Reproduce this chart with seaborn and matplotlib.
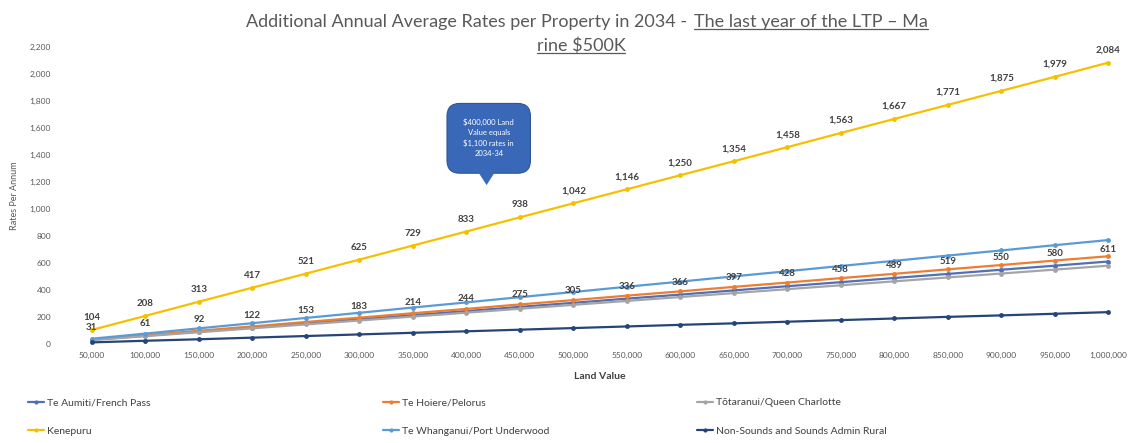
import matplotlib
matplotlib.use("Agg")
import matplotlib.pyplot as plt
import seaborn as sns
import pandas as pd
from matplotlib.patches import FancyBboxPatch, Polygon
from matplotlib.lines import Line2D

# ---------------- data ----------------
land_values = [50000, 100000, 150000, 200000, 250000, 300000, 350000, 400000, 450000, 500000,
               550000, 600000, 650000, 700000, 750000, 800000, 850000, 900000, 950000, 1000000]
x_labels = ["50,000", "100,000", "150,000", "200,000", "250,000", "300,000", "350,000", "400,000",
            "450,000", "500,000", "550,000", "600,000", "650,000", "700,000", "750,000", "800,000",
            "850,000", "900,000", "950,000", "1,000,000"]
te_aumiti = [31, 61, 92, 122, 153, 183, 214, 244, 275, 305, 336, 366, 397, 428, 458, 489, 519, 550, 580, 611]
te_hoiere = [33, 65, 98, 130, 163, 195, 228, 260, 293, 325, 358, 390, 423, 455, 488, 520, 553, 585, 618, 650]
totaranui = [29, 58, 87, 116, 145, 174, 203, 232, 261, 290, 319, 348, 377, 406, 435, 464, 493, 522, 551, 580]
kenepuru = [104, 208, 313, 417, 521, 625, 729, 833, 938, 1042, 1146, 1250, 1354, 1458, 1563, 1667, 1771, 1875, 1979, 2084]
te_whanganui = [39, 77, 116, 154, 193, 231, 270, 308, 347, 385, 424, 462, 501, 539, 578, 616, 655, 693, 732, 770]
non_sounds = [12, 24, 35, 47, 59, 71, 83, 94, 106, 118, 130, 142, 153, 165, 177, 189, 201, 212, 224, 236]

series_names = ["Te Aumiti/French Pass", "Te Hoiere/Pelorus", "Tōtaranui/Queen Charlotte",
                "Kenepuru", "Te Whanganui/Port Underwood", "Non-Sounds and Sounds Admin Rural"]
series_values = [te_aumiti, te_hoiere, totaranui, kenepuru, te_whanganui, non_sounds]
series_colors = ["#4F6FB8", "#ED7D31", "#A5A5A5", "#F5C000", "#5B9BD5", "#264478"]
y_ticks = [0, 200, 400, 600, 800, 1000, 1200, 1400, 1600, 1800, 2000, 2200]

rows = []
for name, vals in zip(series_names, series_values):
    for lv, v in zip(land_values, vals):
        rows.append({"Land Value": lv, "Rates": v, "Series": name})
df = pd.DataFrame(rows)

# ---------------- style ----------------
sns.set_theme(style="white")
plt.rcParams["font.family"] = ["Lato", "DejaVu Sans"]

W, H = 1141, 443
fig = plt.figure(figsize=(W / 100, H / 100), dpi=100)
ax = fig.add_axes([65 / W, 1 - 344 / H, (1135 - 65) / W, (344 - 47) / H])

palette = dict(zip(series_names, series_colors))
sns.lineplot(data=df, x="Land Value", y="Rates", hue="Series", hue_order=series_names,
             palette=palette, ax=ax, linewidth=1.6, marker="o", markersize=3.5,
             markeredgewidth=0, legend=False)

ax.set_xlim(land_values[0] - 25000, land_values[-1] + 25000)
ax.set_ylim(0, 2200)
ax.set_xticks(land_values)
ax.set_xticklabels(x_labels)
ax.set_yticks(y_ticks)
ax.set_yticklabels([f"{t:,}" for t in y_ticks])
ax.tick_params(axis="x", labelsize=6, colors="#595959", length=0, pad=6)
ax.tick_params(axis="y", labelsize=6, colors="#595959", length=0, pad=10)
for s in ax.spines.values():
    s.set_visible(False)
ax.set_xlabel("Land Value", fontsize=7.5, color="#404040", fontweight="bold", labelpad=9)
ax.set_ylabel("Rates Per Annum", fontsize=6.5, color="#595959", labelpad=8)

# data labels
for lv, v in zip(land_values, kenepuru):
    ax.annotate(f"{v:,}", (lv, v), xytext=(0, 9), textcoords="offset points",
                ha="center", va="center", fontsize=7, fontweight="bold", color="#404040")
for lv, v in zip(land_values, te_aumiti):
    ax.annotate(f"{v:,}", (lv, v), xytext=(0, 9), textcoords="offset points",
                ha="center", va="center", fontsize=7, fontweight="bold", color="#404040")

# callout
box = FancyBboxPatch((0.357, 0.575), 0.078, 0.235, boxstyle="round,pad=0,rounding_size=0.012",
                     transform=ax.transAxes, facecolor="#3A68B8", edgecolor="#2F5597",
                     linewidth=0.8, zorder=5, mutation_aspect=3.6)
ax.add_patch(box)
ax.add_patch(Polygon([(0.386, 0.58), (0.402, 0.58), (0.394, 0.535)], closed=True,
                     transform=ax.transAxes, facecolor="#3A68B8", edgecolor="none", zorder=5))
ax.text(0.396, 0.695, "$400,000 Land\nValue equals\n$1,100 rates in\n2034-34", transform=ax.transAxes,
        ha="center", va="center", fontsize=5.5, color="white", zorder=6, linespacing=1.5)

# title with underlined part
fig.canvas.draw()
r = fig.canvas.get_renderer()
t1 = fig.text(687 / W, 1 - 22 / H, "Additional Annual Average Rates per Property in 2034 -",
              ha="right", va="center", fontsize=13, color="#595959")
t2 = fig.text(694 / W, 1 - 22 / H, "The last year of the LTP \u2013 Ma",
              ha="left", va="center", fontsize=13, color="#595959")
t3 = fig.text(581 / W, 1 - 46 / H, "rine $500K", ha="center", va="center",
              fontsize=13, color="#595959")
for t in (t2, t3):
    bb = t.get_window_extent(renderer=r)
    yline = bb.y0 + 1
    fig.add_artist(Line2D([bb.x0 / W, bb.x1 / W], [yline / H, yline / H],
                          transform=fig.transFigure, color="#595959", linewidth=0.9))

# legend: three columns positioned separately
def handle(c):
    return Line2D([], [], color=c, linewidth=1.6, marker="o", markersize=3, markeredgewidth=0)

col_x = [28 / W, 383 / W, 697 / W]
cols = [[0, 3], [1, 4], [2, 5]]
for cx, idxs in zip(col_x, cols):
    fig.legend([handle(series_colors[i]) for i in idxs], [series_names[i] for i in idxs],
               loc="upper left", bbox_to_anchor=(cx, 1 - 398 / H), frameon=False,
               fontsize=7.5, labelcolor="#404040", handlelength=1.5, handletextpad=0.3,
               labelspacing=1.85, borderaxespad=0, borderpad=0)

fig.savefig("out.png", dpi=100)
